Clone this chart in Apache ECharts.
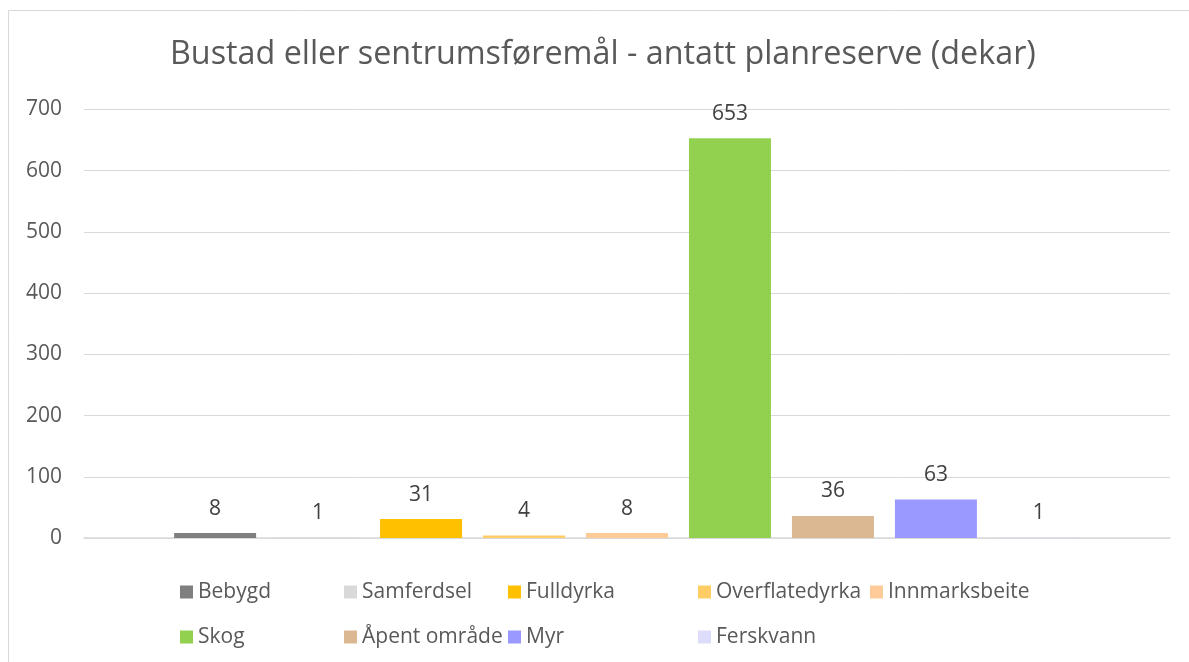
<!DOCTYPE html>
<html><head><meta charset="utf-8">
<script src="https://cdn.jsdelivr.net/npm/echarts@6/dist/echarts.min.js"></script>
<style>html,body{margin:0;padding:0;background:#fff}#c{width:1189px;height:662px}</style>
</head><body><div id="c"></div>
<script>
const title = 'Bustad eller sentrumsføremål - antatt planreserve (dekar)';
const categories = ['Planreserve'];
const seriesNames = ['Bebygd','Samferdsel','Fulldyrka','Overflatedyrka','Innmarksbeite','Skog','Åpent område','Myr','Ferskvann'];
const seriesValues = [8,1,31,4,8,653,36,63,1];
const seriesColors = ['#7f7f7f','#d9d9d9','#ffc000','#ffcc66','#ffcc99','#92d050','#dbb892','#9999ff','#ddddfb'];
const yTicks = [0,100,200,300,400,500,600,700];

const FONT = 'Open Sans';
const chart = echarts.init(document.getElementById('c'), null, {renderer:'canvas'});

const legendCols = [[0,5],[1,6],[2,7],[3,8],[4]];
const legendLeft = [180,344,508,698,870];
const legends = legendCols.map((idx,i)=>({
  left: legendLeft[i], top: 581.5, orient:'vertical', itemGap: 24, padding:0,
  itemWidth: 13, itemHeight: 13, icon:'rect', itemStyle:{borderWidth:0},
  textStyle:{color:'#595959', fontFamily:FONT, fontSize:21, lineHeight:21},
  selectedMode:false,
  data: idx.map(k=>seriesNames[k])
}));

chart.setOption({
  animation:false,
  title:{text:title, left:165, top:34, textStyle:{color:'#595959', fontFamily:FONT, fontSize:32.3, fontWeight:'normal'}},
  graphic:[{type:'rect', shape:{x:8.5,y:10.5,width:1300,height:800}, style:{fill:'none', stroke:'#d9d9d9', lineWidth:1}, silent:true}],
  legend: legends,
  grid:{left:84, right:19, top:109.5, bottom:124, containLabel:false},
  xAxis:{type:'category', data:categories, axisLabel:{show:false}, axisTick:{show:false},
    axisLine:{lineStyle:{color:'#d9d9d9', width:1.5}}},
  yAxis:{type:'value', min:0, max:yTicks[yTicks.length-1], interval:100,
    axisLine:{show:false}, axisTick:{show:false},
    axisLabel:{color:'#595959', fontFamily:FONT, fontSize:21, margin:22},
    splitLine:{lineStyle:{color:'#d9d9d9', width:1}}},
  series: seriesNames.map((n,i)=>({
    name:n, type:'bar', data:[seriesValues[i]],
    barGap:'25.6%', barCategoryGap:'16.6%',
    itemStyle:{color:seriesColors[i]},
    label:{show:true, position:'top', distance:14, color:'#404040', fontFamily:FONT, fontSize:21}
  }))
});
</script></body></html>
